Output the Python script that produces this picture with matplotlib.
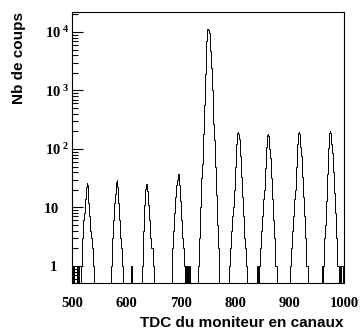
import numpy as np
import matplotlib
matplotlib.use("Agg")
import matplotlib.pyplot as plt
from matplotlib.transforms import ScaledTranslation

# ---- data (channel counts) ----
x_min, x_max = 500, 1000

peak1_start = 516
peak1_counts = [1, 1, 2, 3, 4, 6, 8, 11, 14, 18, 22, 26, 24, 16, 12, 10, 7, 5, 4, 3, 3, 2, 1, 1]
peak2_start = 572
peak2_counts = [1, 2, 3, 4, 6, 9, 12, 17, 22, 27, 29, 22, 17, 12, 9, 6, 4, 3, 2, 2, 1, 1]
peak3_start = 629
peak3_counts = [1, 2, 4, 7, 11, 16, 21, 25, 23, 19, 15, 11, 8, 6, 4, 3, 3, 2, 2, 1, 1, 1]
peak4_start = 683
peak4_counts = [1, 2, 3, 4, 6, 8, 11, 15, 19, 24, 30, 35, 38, 30, 24, 18, 13, 9, 6, 4, 3, 2, 1, 1, 0, 1, 1, 0, 1]
peak5_start = 732
peak5_counts = [1, 2, 3, 6, 10, 18, 32, 56, 100, 180, 320, 560, 1000, 1900, 3700, 7000, 10500, 11200,
                11000, 10500, 9500, 6800, 4800, 3400, 2400, 1500, 1000, 520, 270, 140, 90, 50, 28, 16, 9,
                5, 3, 2, 1]
peak6_start = 788
peak6_counts = [1, 1, 2, 2, 3, 4, 5, 7, 10, 14, 20, 30, 50, 80, 120, 160, 185, 193, 180, 150, 110, 75,
                50, 33, 22, 15, 10, 7, 5, 3, 2, 1, 1]
peak7_start = 843
peak7_counts = [1, 1, 2, 2, 3, 4, 5, 7, 10, 14, 20, 30, 48, 75, 110, 145, 170, 178, 165, 135, 100, 70,
                48, 32, 21, 14, 9, 6, 4, 3, 2, 1, 1]
peak8_start = 900
peak8_counts = [1, 1, 2, 2, 3, 4, 5, 7, 10, 14, 20, 30, 50, 80, 120, 160, 185, 193, 180, 150, 110, 75,
                50, 33, 22, 15, 10, 7, 5, 3, 2, 1, 1]
peak9_start = 962
peak9_counts = [1, 2, 3, 5, 8, 13, 22, 38, 65, 105, 150, 185, 203, 190, 160, 120, 85, 58, 40, 27, 18,
                12, 8, 5, 3, 2, 1, 1, 1, 0, 1, 1, 0, 1, 1, 1]

single_channels = [502, 503, 509, 511, 609, 713, 715, 840, 960]
single_counts = [1, 1, 1, 1, 1, 1, 1, 1, 1]

y_ticks = [1, 10, 100, 1000, 10000]
y_tick_labels = [r"$1$", r"$10$", r"$10^{\ 2}$", r"$10^{\ 3}$", r"$10^{\ 4}$"]
x_ticks = [500, 600, 700, 800, 900, 1000]
x_tick_labels = ["500", "600", "700", "800", "900", "1000"]
x_title = "TDC du moniteur en canaux"
y_title = "Nb de coups"

# ---- build histogram ----
edges = np.arange(x_min, x_max + 1)
counts = np.zeros(len(edges) - 1)
for start, vals in [(peak1_start, peak1_counts), (peak2_start, peak2_counts), (peak3_start, peak3_counts),
                    (peak4_start, peak4_counts), (peak5_start, peak5_counts), (peak6_start, peak6_counts),
                    (peak7_start, peak7_counts), (peak8_start, peak8_counts), (peak9_start, peak9_counts)]:
    for i, v in enumerate(vals):
        counts[start - x_min + i] = v
for c, v in zip(single_channels, single_counts):
    counts[c - x_min] = v

plt.rcParams['mathtext.fontset'] = 'custom'
plt.rcParams['mathtext.rm'] = 'Liberation Serif:bold'
plt.rcParams['mathtext.it'] = 'Liberation Serif:bold'
plt.rcParams['mathtext.bf'] = 'Liberation Serif:bold'

W, H = 362, 333
fig = plt.figure(figsize=(W / 100, H / 100), dpi=100)
ax = fig.add_axes([72 / W, (H - 283) / H, 272 / W, 271 / H])

ax.stairs(counts, edges, color='black', lw=0.7, baseline=None)
ax.set_yscale('log', nonpositive='clip')
ax.set_xlim(x_min, x_max)
ax.set_ylim(0.51, 2.2e4)

ax.set_yticks(y_ticks)
ax.set_yticklabels(y_tick_labels)
ax.yaxis.set_minor_locator(matplotlib.ticker.LogLocator(base=10, subs=np.arange(2, 10)))
ax.yaxis.set_minor_formatter(matplotlib.ticker.NullFormatter())
ax.set_xticks(x_ticks)
ax.set_xticklabels(x_tick_labels)

ax.tick_params(axis='y', which='major', direction='in', length=8, width=0.8, pad=2, labelsize=10.5)
ax.tick_params(axis='y', which='minor', direction='in', length=4.5, width=0.8)
ax.tick_params(axis='x', which='both', direction='in', length=0, pad=10, labelsize=10.5)
for lab in ax.get_xticklabels() + ax.get_yticklabels():
    lab.set_fontfamily('Liberation Serif')
    lab.set_fontweight('bold')
for s in ax.spines.values():
    s.set_linewidth(0.8)

# ROOT-style alignment: plain "1" and "10" sit left of the exponent column
ticks = ax.yaxis.get_major_ticks()
for tk, shift_px in zip(ticks[:2], [-12, -10]):
    lab = tk.label1
    lab.set_transform(lab.get_transform() + ScaledTranslation(shift_px / 100, 0, fig.dpi_scale_trans))

fig.text(344 / W, 1 - 327 / H, x_title, ha='right', va='baseline',
         fontfamily='Liberation Sans', fontweight='bold', fontsize=11)
fig.text(19 / W, 1 - 12 / H, y_title, ha='center', va='top', rotation=90,
         fontfamily='Liberation Sans', fontweight='bold', fontsize=11)

fig.savefig('out.png', dpi=100)
